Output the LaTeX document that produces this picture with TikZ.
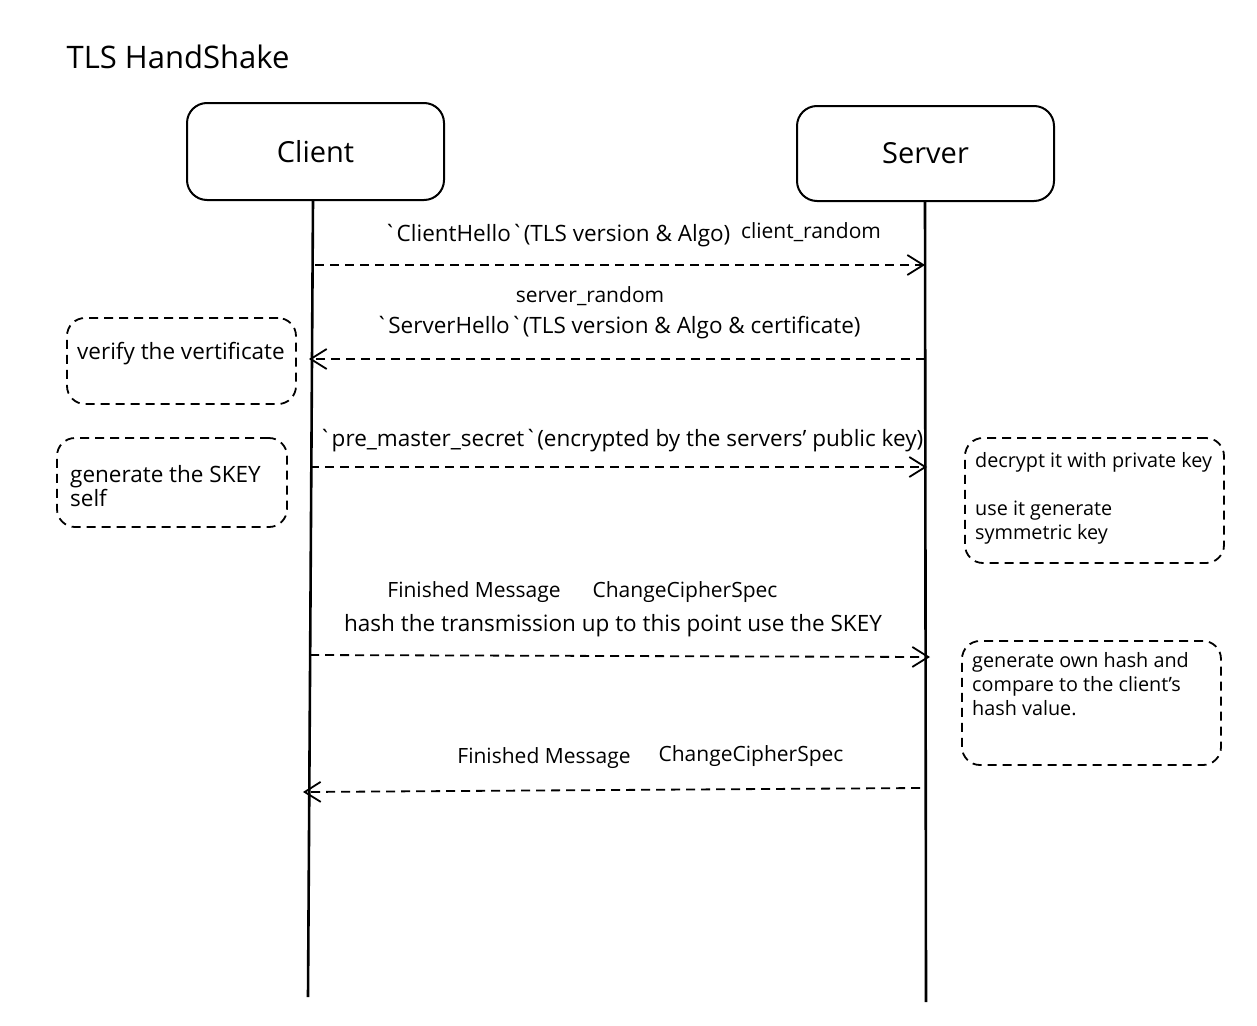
\documentclass[tikz,border=0pt]{standalone}
\usepackage{fontspec}
\setmainfont{Open Sans}
\usetikzlibrary{arrows.meta}
\begin{document}
\begin{tikzpicture}[x=1pt,y=-1pt,
  actor/.style={draw, line width=2pt, rounded corners=20pt, font=\fontsize{29}{32}\selectfont},
  life/.style={line width=2.6pt},
  msg/.style={line width=1.8pt, dash pattern=on 9pt off 6pt,
    -{Straight Barb[length=16pt,width=20pt,line width=1.8pt]}},
  note/.style={draw, line width=1.8pt, dash pattern=on 9pt off 6pt, rounded corners=18pt},
  lbl/.style={font=\fontsize{22.5}{26}\selectfont, inner sep=0pt},
  shortlbl/.style={font=\fontsize{21}{26}\selectfont, inner sep=0pt},
  notetext/.style={font=\fontsize{19.8}{24}\selectfont, inner sep=0pt, align=left, anchor=north west},
  bignotetext/.style={notetext, font=\fontsize{22.5}{24}\selectfont},
]
\useasboundingbox (0,0) rectangle (1257,1025);

% title
\node[font=\fontsize{31}{34}\selectfont, inner sep=0pt] (title) at (178,57) {TLS HandShake};

% actors
\node[actor, minimum width=257pt, minimum height=97pt] (client) at (315.5,151.5) {Client};
\node[actor, minimum width=257pt, minimum height=95pt] (server) at (925.5,153.5) {Server};

% lifelines
\coordinate (ctop) at (313,200);
\coordinate (cbot) at (308,997);
\coordinate (stop) at (925,201);
\coordinate (sbot) at (926,1002);
\draw[life] (ctop) -- (cbot);
\draw[life] (stop) -- (sbot);

% message 1
\coordinate (m1s) at (315,265);
\coordinate (m1e) at (925,265);
\draw[msg] (m1s) -- (m1e);
\node[lbl] (l1a) at (557,236) {\textasciigrave ClientHello\textasciigrave(TLS version \& Algo)};
\node[shortlbl] (l1b) at (811,232) {client\_random};

% message 2
\coordinate (m2s) at (925,359);
\coordinate (m2e) at (309,359);
\draw[msg] (m2s) -- (m2e);
\node[shortlbl] (l2a) at (590,296) {server\_random};
\node[lbl] (l2b) at (618,328) {\textasciigrave ServerHello\textasciigrave(TLS version \& Algo \& certificate)};

% message 3
\coordinate (m3s) at (310,467);
\coordinate (m3e) at (927,467);
\draw[msg] (m3s) -- (m3e);
\node[lbl] (l3) at (621,441) {\textasciigrave pre\_master\_secret\textasciigrave(encrypted by the servers' public key)};

% message 4
\coordinate (m4s) at (310,655);
\coordinate (m4e) at (930,657);
\draw[msg] (m4s) -- (m4e);
\node[shortlbl] (l4a) at (474,592) {Finished Message};
\node[shortlbl] (l4b) at (685,592) {ChangeCipherSpec};
\node[lbl] (l4c) at (613,626) {hash the transmission up to this point use the SKEY};

% message 5
\coordinate (m5s) at (920,788);
\coordinate (m5e) at (303,792);
\draw[msg] (m5s) -- (m5e);
\node[shortlbl] (l5a) at (544,758) {Finished Message};
\node[shortlbl] (l5b) at (751,756) {ChangeCipherSpec};

% notes
\node[note, minimum width=229pt, minimum height=86pt] (n1) at (181.5,361) {};
\node[bignotetext] (t1) at (77,342) {verify the vertificate};

\node[note, minimum width=230pt, minimum height=89pt] (n2) at (172,482.5) {};
\node[bignotetext] (t2) at (70,465) {generate the SKEY\\self};

\node[note, minimum width=259pt, minimum height=125pt] (n3) at (1094.5,500.5) {};
\node[notetext] (t3) at (975,452) {decrypt it with private key\\[0pt]\\use it generate\\symmetric key};

\node[note, minimum width=259pt, minimum height=124pt] (n4) at (1091.5,703) {};
\node[notetext] (t4) at (972,652) {generate own hash and\\compare to the client's\\hash value.};
\end{tikzpicture}
\end{document}
